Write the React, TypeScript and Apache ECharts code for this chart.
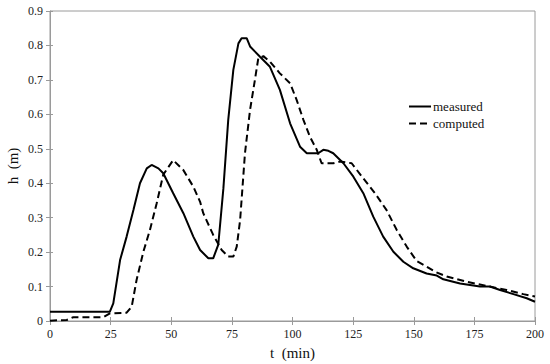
import React, { useEffect, useRef } from "react";
import * as echarts from "echarts";

const measuredT = [0, 24.7, 26.1, 28.9, 31.6, 34.4, 37.1, 39.9, 41.9, 44.7, 46.7, 50.8, 55.0, 59.1, 61.9, 65.3, 67.3, 69.4, 71.5, 73.5, 75.6, 77.7, 79.0, 81.1, 82.5, 86.6, 90.7, 94.8, 99.0, 103.1, 105.9, 110.6, 112.7, 114.8, 116.8, 121, 125.1, 129.2, 133.3, 137.4, 141.6, 145.7, 149.8, 155.3, 159.5, 162.2, 169.1, 177.3, 181.4, 185.6, 191.1, 196.6, 200];
const measuredH = [0.027, 0.027, 0.051, 0.177, 0.245, 0.322, 0.40, 0.443, 0.453, 0.443, 0.429, 0.371, 0.313, 0.245, 0.206, 0.182, 0.182, 0.222, 0.385, 0.584, 0.729, 0.806, 0.821, 0.821, 0.797, 0.767, 0.738, 0.671, 0.574, 0.506, 0.487, 0.487, 0.497, 0.494, 0.487, 0.458, 0.419, 0.371, 0.303, 0.245, 0.201, 0.172, 0.153, 0.138, 0.132, 0.121, 0.109, 0.100, 0.100, 0.090, 0.078, 0.066, 0.056];

const computedT = [0, 6.9, 9.6, 22, 24.7, 31.6, 33.7, 35.7, 38.5, 41.2, 44, 46.7, 50.8, 55, 59.1, 61.9, 63.2, 67.3, 70.8, 73.5, 75.6, 77, 78.4, 80.4, 82.5, 84.5, 85.9, 88, 90.7, 94.8, 99, 101.7, 104.5, 107.2, 110, 112, 116.8, 119.6, 124.4, 129.2, 134, 138.8, 143, 147.1, 151.2, 155.3, 158.8, 163.6, 171.8, 180.1, 188.3, 195.2, 200];
const computedH = [0.001, 0.003, 0.011, 0.011, 0.022, 0.024, 0.042, 0.119, 0.201, 0.264, 0.342, 0.425, 0.467, 0.438, 0.39, 0.346, 0.313, 0.25, 0.206, 0.187, 0.187, 0.216, 0.293, 0.487, 0.613, 0.70, 0.763, 0.769, 0.753, 0.719, 0.69, 0.642, 0.584, 0.535, 0.497, 0.458, 0.458, 0.463, 0.458, 0.414, 0.371, 0.322, 0.264, 0.216, 0.174, 0.158, 0.143, 0.129, 0.114, 0.102, 0.09, 0.078, 0.071];

const seriesNames = ["measured", "computed"];
const xTicks = { min: 0, max: 200, interval: 25 };
const yTicks = { min: 0, max: 0.9, interval: 0.1 };

const FONT = "Liberation Serif";
const AXIS_GRAY = "#9a9a9a";

export default function App() {
  const ref = useRef<HTMLDivElement>(null);
  useEffect(() => {
    if (!ref.current) return;
    const chart = echarts.init(ref.current, undefined, { renderer: "svg" });
    const measured = measuredT.map((t, i) => [t, measuredH[i]]);
    const computed = computedT.map((t, i) => [t, computedH[i]]);
    const labelStyle = { color: "#222", fontFamily: FONT, fontSize: 12 };
    chart.setOption({
      animation: false,
      backgroundColor: "#ffffff",
      textStyle: { fontFamily: FONT },
      grid: {
        left: 50,
        right: 15,
        top: 11,
        bottom: 43,
        show: true,
        borderColor: AXIS_GRAY,
        borderWidth: 1,
        containLabel: false,
        outerBoundsMode: "none",
      },
      legend: {
        orient: "vertical",
        left: 403,
        top: 95,
        itemWidth: 22,
        itemHeight: 14,
        itemGap: 4,
        data: seriesNames,
        itemStyle: { opacity: 0 },
        textStyle: { color: "#111", fontFamily: FONT, fontSize: 13, padding: [0, 0, 0, -3] },
      },
      xAxis: [
        {
          type: "value",
          min: xTicks.min,
          max: xTicks.max,
          interval: xTicks.interval,
          name: "t  (min)",
          nameLocation: "middle",
          nameGap: 24,
          nameMoveOverlap: false,
          nameTextStyle: { color: "#111", fontFamily: FONT, fontSize: 15 },
          axisLine: { show: true, lineStyle: { color: AXIS_GRAY, width: 1 } },
          axisTick: { show: true, inside: false, length: 4, lineStyle: { color: AXIS_GRAY } },
          axisLabel: { ...labelStyle, margin: 7 },
          splitLine: { show: false },
        },
        {
          type: "value",
          position: "bottom",
          min: xTicks.min,
          max: xTicks.max,
          interval: xTicks.interval,
          axisLine: { show: false },
          axisTick: { show: true, inside: true, length: 4, lineStyle: { color: AXIS_GRAY } },
          axisLabel: { show: false },
          splitLine: { show: false },
        },
      ],
      yAxis: [
        {
          type: "value",
          min: yTicks.min,
          max: yTicks.max,
          interval: yTicks.interval,
          name: "h  (m)",
          nameLocation: "middle",
          nameGap: 30,
          nameMoveOverlap: false,
          nameTextStyle: { color: "#111", fontFamily: FONT, fontSize: 15 },
          axisLine: { show: true, lineStyle: { color: AXIS_GRAY, width: 1 } },
          axisTick: { show: true, inside: false, length: 4, lineStyle: { color: AXIS_GRAY } },
          axisLabel: { ...labelStyle, margin: 7, formatter: (v: number) => (v === 0 ? "0" : v.toFixed(1)) },
          splitLine: { show: false },
        },
        {
          type: "value",
          position: "left",
          offset: 0,
          min: yTicks.min,
          max: yTicks.max,
          interval: yTicks.interval,
          axisLine: { show: false },
          axisTick: { show: true, inside: true, length: 3, lineStyle: { color: AXIS_GRAY } },
          axisLabel: { show: false },
          splitLine: { show: false },
        },
      ],
      series: [
        {
          name: seriesNames[0],
          type: "line",
          data: measured,
          symbol: "none",
          lineStyle: { color: "#000", width: 2, type: "solid" },
          itemStyle: { color: "#000" },
        },
        {
          name: seriesNames[1],
          type: "line",
          data: computed,
          symbol: "none",
          lineStyle: { color: "#000", width: 2, type: [7, 4] },
          itemStyle: { color: "#000" },
        },
      ],
    });
    return () => chart.dispose();
  }, []);
  return <div ref={ref} style={{ position: "fixed", left: 0, top: 0, width: 550, height: 364 }} />;
}
